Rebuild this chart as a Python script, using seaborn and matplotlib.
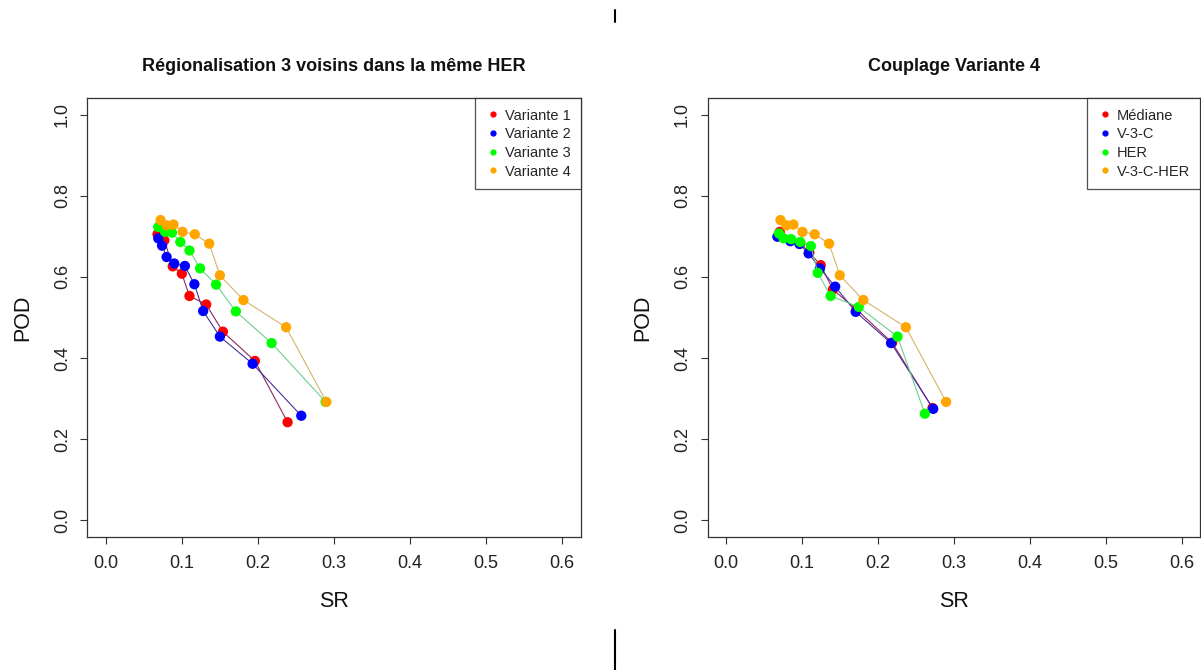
import matplotlib
matplotlib.use("Agg")
import matplotlib.pyplot as plt
import seaborn as sns
import pandas as pd
from matplotlib.lines import Line2D

sns.set_style("white")
plt.rcParams['font.family'] = ['Liberation Sans', 'DejaVu Sans']

# ---------------- data ----------------
left_title = "Régionalisation 3 voisins dans la même HER"
right_title = "Couplage Variante 4"
left_labels = ["Variante 1", "Variante 2", "Variante 3", "Variante 4"]
right_labels = ["Médiane", "V-3-C", "HER", "V-3-C-HER"]

v1_sr = [0.068, 0.077, 0.088, 0.100, 0.110, 0.132, 0.154, 0.196, 0.239]
v1_pod = [0.705, 0.690, 0.626, 0.608, 0.553, 0.532, 0.465, 0.393, 0.242]
v2_sr = [0.069, 0.074, 0.080, 0.090, 0.104, 0.1165, 0.128, 0.150, 0.193, 0.257]
v2_pod = [0.695, 0.677, 0.649, 0.633, 0.627, 0.582, 0.516, 0.453, 0.386, 0.258]
v3_sr = [0.069, 0.078, 0.087, 0.098, 0.110, 0.124, 0.145, 0.171, 0.218, 0.289]
v3_pod = [0.723, 0.711, 0.709, 0.686, 0.665, 0.621, 0.581, 0.515, 0.437, 0.292]
v4_sr = [0.072, 0.080, 0.089, 0.101, 0.117, 0.136, 0.150, 0.181, 0.237, 0.290]
v4_pod = [0.740, 0.727, 0.729, 0.711, 0.705, 0.682, 0.604, 0.543, 0.476, 0.292]

med_sr = [0.071, 0.085, 0.098, 0.110, 0.125, 0.141, 0.172, 0.219, 0.272]
med_pod = [0.711, 0.690, 0.683, 0.660, 0.629, 0.569, 0.520, 0.438, 0.277]
vc_sr = [0.068, 0.085, 0.097, 0.109, 0.124, 0.144, 0.171, 0.2175, 0.273]
vc_pod = [0.699, 0.688, 0.681, 0.658, 0.621, 0.576, 0.514, 0.437, 0.275]
her_sr = [0.070, 0.076, 0.086, 0.098, 0.112, 0.121, 0.138, 0.175, 0.226, 0.262]
her_pod = [0.707, 0.695, 0.693, 0.686, 0.676, 0.610, 0.553, 0.526, 0.453, 0.263]
vch_sr = [0.072, 0.080, 0.089, 0.101, 0.117, 0.136, 0.150, 0.181, 0.237, 0.290]
vch_pod = [0.740, 0.727, 0.729, 0.711, 0.705, 0.682, 0.604, 0.543, 0.476, 0.292]

x_ticks = [0.0, 0.1, 0.2, 0.3, 0.4, 0.5, 0.6]
y_ticks = [0.0, 0.2, 0.4, 0.6, 0.8, 1.0]

point_colors = ["#FF0000", "#0000FF", "#00FF00", "#FFA500"]
line_colors = ["#8E2A5E", "#4A2E9A", "#6CD08C", "#D6B46A"]

W, H = 1201, 670
fig = plt.figure(figsize=(W / 100, H / 100), dpi=100)
fig.patch.set_facecolor("white")

ax_w = 493.0 / W
ax_h = 438.4 / H
ax_b = (H - 536.7) / H
ax1 = fig.add_axes([87.5 / W, ax_b, ax_w, ax_h])
ax2 = fig.add_axes([707.5 / W, ax_b, 492.5 / W, ax_h])


def draw(ax, series, labels, title):
    for i, (sr, pod) in enumerate(series):
        df = pd.DataFrame({"SR": sr, "POD": pod})
        sns.lineplot(data=df, x="SR", y="POD", sort=False, estimator=None,
                     color=line_colors[i], lw=0.8, ax=ax, zorder=2 + 2 * i)
        sns.scatterplot(data=df, x="SR", y="POD", color=point_colors[i], s=55,
                        edgecolor="none", linewidth=0, ax=ax, zorder=3 + 2 * i)
    ax.set_xlim(-0.024, 0.624)
    ax.set_ylim(-0.04, 1.04)
    ax.set_xticks(x_ticks)
    ax.set_xticklabels([f"{t:.1f}" for t in x_ticks])
    ax.set_yticks(y_ticks)
    ax.set_yticklabels([f"{t:.1f}" for t in y_ticks], rotation=90, va="center")
    ax.tick_params(axis="both", direction="out", length=5, width=0.8,
                   colors="#333333", labelsize=13, labelcolor="#222222")
    ax.tick_params(axis="x", pad=8, bottom=True)
    ax.tick_params(axis="y", pad=7, left=True)
    ax.set_xlabel("SR", fontsize=15.5, labelpad=14, color="#111111")
    ax.set_ylabel("POD", fontsize=15.5, labelpad=14.5, color="#111111")
    ax.set_title(title, fontsize=13, fontweight="bold", pad=20, color="#111111")
    for s in ax.spines.values():
        s.set_visible(True)
        s.set_color("#333333")
        s.set_linewidth(0.9)
    ax.grid(False)
    handles = [Line2D([], [], ls="none", marker="o", markersize=4.5,
                      markerfacecolor=c, markeredgecolor="none", color=c)
               for c in point_colors]
    leg = ax.legend(handles, labels, loc="upper right", borderaxespad=0,
                    fontsize=10.5, frameon=True, fancybox=False,
                    edgecolor="#222222", borderpad=0.7, labelspacing=0.32,
                    handlelength=1.0, handletextpad=0.3)
    leg.get_frame().set_linewidth(0.9)
    leg.set_zorder(20)


draw(ax1, [(v1_sr, v1_pod), (v2_sr, v2_pod), (v3_sr, v3_pod), (v4_sr, v4_pod)],
     left_labels, left_title)
draw(ax2, [(med_sr, med_pod), (vc_sr, vc_pod), (her_sr, her_pod), (vch_sr, vch_pod)],
     right_labels, right_title)

# page separator marks present in the reference image
fig.add_artist(Line2D([614.5 / W, 614.5 / W], [1 - 10 / H, 1 - 22 / H],
                      color="black", lw=1.5, transform=fig.transFigure))
fig.add_artist(Line2D([614.5 / W, 614.5 / W], [1 - 630 / H, 0.0],
                      color="black", lw=1.5, transform=fig.transFigure))

fig.savefig("out.png", dpi=100, facecolor="white")
